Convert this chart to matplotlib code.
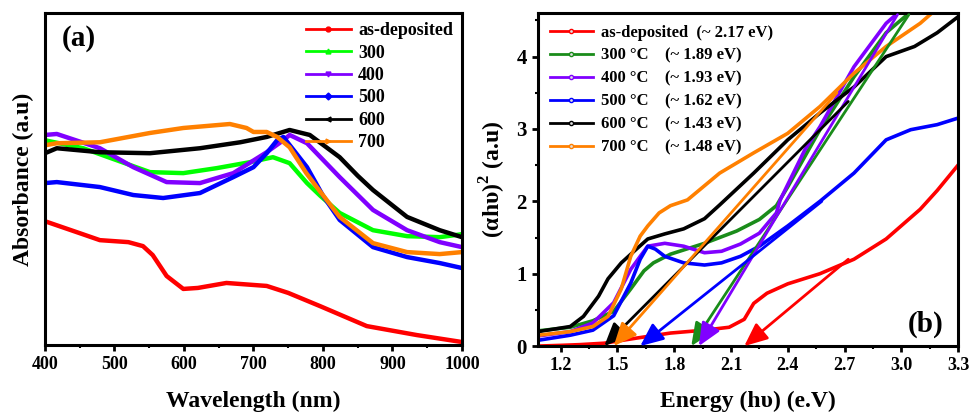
import matplotlib.pyplot as plt
import numpy as np
from matplotlib.lines import Line2D
from matplotlib.ticker import MultipleLocator

plt.rcParams["font.family"] = ["Liberation Serif", "DejaVu Serif"]
plt.rcParams["font.weight"] = "bold"
plt.rcParams["axes.labelweight"] = "bold"
plt.rcParams["mathtext.fontset"] = "custom"
plt.rcParams["mathtext.rm"] = "Liberation Serif:bold"
plt.rcParams["mathtext.bf"] = "Liberation Serif:bold"

# ---- (a) absorbance spectra (arbitrary units) ----
wl_red = [400, 450, 479, 520, 541, 555, 575, 599, 620, 661, 719, 750, 796, 863, 935, 1000]
ab_red = [0.373, 0.337, 0.316, 0.310, 0.298, 0.271, 0.208, 0.169, 0.172, 0.187, 0.178,
          0.157, 0.117, 0.057, 0.030, 0.009]

wl_300 = [400, 455, 503, 551, 599, 647, 695, 728, 752, 777, 796, 824, 872, 921, 968, 1000]
ab_300 = [0.617, 0.593, 0.557, 0.521, 0.518, 0.533, 0.551, 0.566, 0.548, 0.488, 0.450,
          0.398, 0.346, 0.328, 0.325, 0.334]

wl_400 = [400, 417, 479, 527, 575, 623, 671, 719, 743, 752, 777, 824, 872, 921, 968, 1000]
ab_400 = [0.633, 0.636, 0.593, 0.536, 0.491, 0.488, 0.518, 0.581, 0.617, 0.633, 0.608,
          0.506, 0.407, 0.346, 0.310, 0.295]

wl_500 = [400, 417, 479, 527, 570, 623, 671, 700, 719, 734, 743, 777, 800, 824, 872,
          921, 968, 1000]
ab_500 = [0.488, 0.491, 0.476, 0.452, 0.443, 0.458, 0.506, 0.536, 0.578, 0.617, 0.627,
          0.536, 0.450, 0.377, 0.295, 0.265, 0.247, 0.232]

wl_600 = [400, 417, 479, 551, 623, 681, 719, 752, 781, 824, 850, 872, 921, 968, 1000]
ab_600 = [0.578, 0.593, 0.581, 0.578, 0.593, 0.611, 0.627, 0.648, 0.633, 0.566, 0.510,
          0.467, 0.386, 0.346, 0.325]

wl_700 = [400, 417, 479, 551, 599, 666, 690, 700, 719, 734, 752, 776, 791, 824, 872,
          921, 968, 1000]
ab_700 = [0.602, 0.608, 0.611, 0.639, 0.654, 0.666, 0.654, 0.642, 0.642, 0.627, 0.596,
          0.518, 0.476, 0.386, 0.307, 0.280, 0.274, 0.280]

labels_a = ["as-deposited", "300", "400", "500", "600", "700"]
colors_a = ["#ff0000", "#00ff00", "#8000ff", "#0000ff", "#000000", "#ff8000"]
markers_a = ["o", "^", "v", "D", "<", ">"]
series_a = [(wl_red, ab_red), (wl_300, ab_300), (wl_400, ab_400),
            (wl_500, ab_500), (wl_600, ab_600), (wl_700, ab_700)]

# ---- (b) Tauc plots ----
e_red = [1.08, 1.2, 1.3, 1.43, 1.60, 1.78, 1.96, 2.09, 2.17, 2.22, 2.29, 2.40, 2.57, 2.75,
         2.92, 3.10, 3.19, 3.30]
t_red = [0.0, 0.01, 0.02, 0.04, 0.11, 0.18, 0.22, 0.26, 0.37, 0.59, 0.73, 0.86, 1.0, 1.2,
         1.48, 1.89, 2.15, 2.5]

e_300 = [1.08, 1.25, 1.37, 1.48, 1.57, 1.64, 1.69, 1.78, 1.96, 2.13, 2.25, 2.34, 2.40, 2.57,
         2.75, 2.92, 3.05]
t_300 = [0.21, 0.26, 0.35, 0.48, 0.79, 1.04, 1.15, 1.27, 1.42, 1.59, 1.75, 1.94, 2.2, 2.99,
         3.72, 4.33, 4.62]

e_400 = [1.08, 1.25, 1.37, 1.48, 1.57, 1.62, 1.66, 1.75, 1.85, 1.96, 2.05, 2.15, 2.25, 2.34,
         2.36, 2.49, 2.57, 2.75, 2.92, 2.99]
t_400 = [0.14, 0.2, 0.32, 0.6, 1.06, 1.24, 1.38, 1.42, 1.38, 1.29, 1.31, 1.41, 1.56, 1.84,
         2.02, 2.71, 3.03, 3.86, 4.46, 4.62]

e_500 = [1.08, 1.25, 1.37, 1.48, 1.57, 1.62, 1.66, 1.70, 1.75, 1.85, 1.96, 2.05, 2.15, 2.25,
         2.40, 2.57, 2.75, 2.92, 3.05, 3.19, 3.30]
t_500 = [0.08, 0.15, 0.22, 0.42, 0.87, 1.2, 1.38, 1.34, 1.24, 1.15, 1.12, 1.15, 1.24, 1.38,
         1.66, 2.0, 2.39, 2.85, 2.99, 3.06, 3.15]

e_600 = [1.08, 1.25, 1.32, 1.40, 1.45, 1.52, 1.60, 1.66, 1.75, 1.85, 1.96, 2.04, 2.22, 2.40,
         2.57, 2.75, 2.92, 3.07, 3.19, 3.30]
t_600 = [0.2, 0.27, 0.41, 0.69, 0.93, 1.15, 1.34, 1.48, 1.55, 1.62, 1.76, 1.95, 2.39, 2.85,
         3.22, 3.58, 4.0, 4.14, 4.33, 4.55]

e_700 = [1.08, 1.25, 1.37, 1.45, 1.52, 1.57, 1.62, 1.66, 1.72, 1.78, 1.87, 2.04, 2.22, 2.40,
         2.57, 2.75, 2.92, 3.10, 3.17]
t_700 = [0.15, 0.2, 0.27, 0.41, 0.79, 1.24, 1.52, 1.66, 1.84, 1.94, 2.02, 2.39, 2.67, 2.94,
         3.31, 3.77, 4.14, 4.46, 4.62]

labels_b = ["as-deposited  (~ 2.17 eV)", "300 °C    (~ 1.89 eV)", "400 °C    (~ 1.93 eV)",
            "500 °C    (~ 1.62 eV)", "600 °C    (~ 1.43 eV)", "700 °C    (~ 1.48 eV)"]
colors_b = ["#ff0000", "#1a8c1a", "#8000ff", "#0000ff", "#000000", "#ff8000"]
series_b = [(e_red, t_red), (e_300, t_300), (e_400, t_400),
            (e_500, t_500), (e_600, t_600), (e_700, t_700)]

# band gaps (x-intercepts) and where each linear fit starts
band_gaps = [2.17, 1.89, 1.93, 1.62, 1.43, 1.48]
fit_start_x = [2.72, 3.04, 2.98, 2.58, 2.72, 2.66]
fit_start_y = [1.20, 4.58, 4.58, 2.00, 3.38, 3.50]

fig = plt.figure(figsize=(9.74, 4.12), dpi=100)
ax1 = fig.add_axes([0.0462, 0.1626, 0.4281, 0.8054])
ax2 = fig.add_axes([0.5524, 0.160, 0.4312, 0.808])

for ax in (ax1, ax2):
    for s in ax.spines.values():
        s.set_linewidth(2.2)
    ax.tick_params(which="major", direction="out", length=4.5, width=2, labelsize=13)
    ax.tick_params(which="minor", direction="out", length=2.5, width=1.5)

# (a)
handles_a = []
for (x, y), lab, c, m in zip(series_a, labels_a, colors_a, markers_a):
    ax1.plot(x, y, color=c, lw=3.2, solid_joinstyle="round", solid_capstyle="round")
    handles_a.append(Line2D([], [], color=c, lw=2, marker=m, markersize=3.5, label=lab))
ax1.set_xlim(400, 1000)
ax1.set_ylim(0, 1)
ax1.xaxis.set_major_locator(MultipleLocator(100))
ax1.xaxis.set_minor_locator(MultipleLocator(50))
ax1.set_yticks([])
ax1.set_xlabel("Wavelength (nm)", fontsize=17, labelpad=13)
ax1.set_ylabel("Absorbance (a.u)", fontsize=17, labelpad=8)
ax1.text(0.04, 0.925, "(a)", transform=ax1.transAxes, fontsize=21, va="center")
ax1.legend(handles=handles_a, loc="upper right", frameon=False, fontsize=13,
           handlelength=2.5, handletextpad=0.4, labelspacing=0.3,
           borderaxespad=0.1, bbox_to_anchor=(1.0, 1.0))

# (b)
handles_b = []
for (x, y), lab, c in zip(series_b, labels_b, colors_b):
    ax2.plot(x, y, color=c, lw=2.6, solid_joinstyle="round")
    handles_b.append(Line2D([], [], color=c, lw=2, marker="o", markersize=3,
                            markerfacecolor="#dddddd", markeredgecolor=c, label=lab))
for eg, xs, ys, c in zip(band_gaps, fit_start_x, fit_start_y, colors_b):
    ax2.annotate("", xy=(eg, 0), xytext=(xs, ys),
                 arrowprops=dict(arrowstyle="-|>,head_length=0.5,head_width=0.22",
                                 color=c, lw=2.0, mutation_scale=28,
                                 shrinkA=0, shrinkB=0))
ax2.set_xlim(1.08, 3.3)
ax2.set_ylim(0, 4.6)
ax2.set_xticks(np.arange(1.2, 3.31, 0.3))
ax2.set_xticklabels(["1.2", "1.5", "1.8", "2.1", "2.4", "2.7", "3.0", "3.3"])
ax2.xaxis.set_minor_locator(MultipleLocator(0.15))
ax2.yaxis.set_major_locator(MultipleLocator(1))
ax2.yaxis.set_minor_locator(MultipleLocator(0.5))
ax2.tick_params(axis="y", labelsize=15)
ax2.set_xlabel("Energy (hυ) (e.V)", fontsize=17, labelpad=12)
ax2.set_ylabel(r"(αhυ)$^{\mathbf{2}}$ (a.u)", fontsize=17, labelpad=6)
ax2.text(0.965, 0.065, "(b)", transform=ax2.transAxes, fontsize=21, ha="right", va="center")
ax2.legend(handles=handles_b, loc="upper left", frameon=False, fontsize=12,
           handlelength=2.6, handletextpad=0.45, labelspacing=0.42,
           borderaxespad=0.3)

fig.savefig("out.png", dpi=100)
